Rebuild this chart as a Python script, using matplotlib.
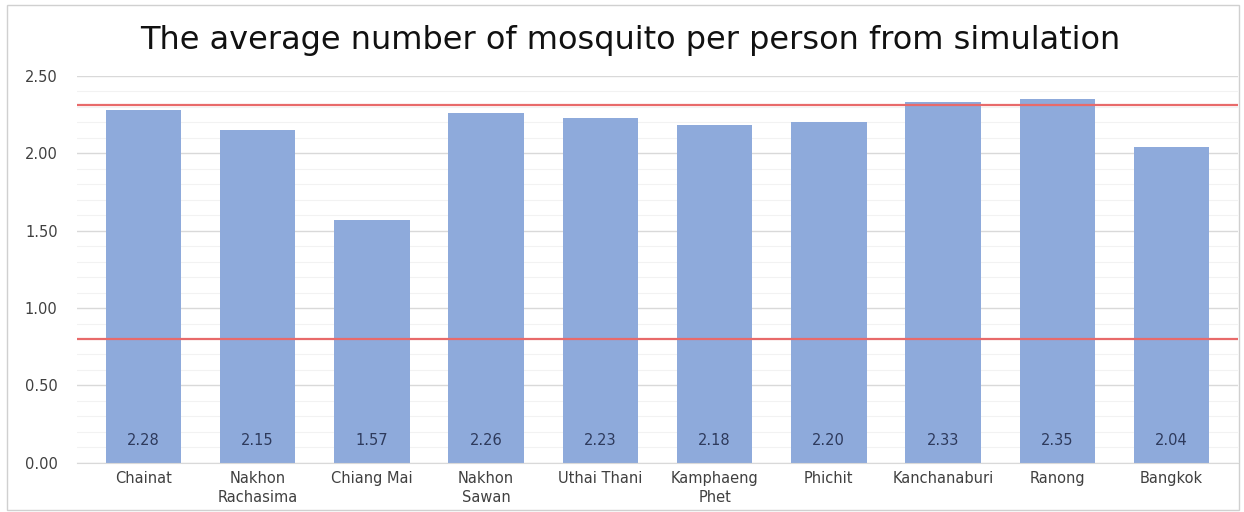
import numpy as np
import matplotlib
matplotlib.use("Agg")
import matplotlib.pyplot as plt
from matplotlib.patches import Rectangle

# data
provinces = ["Chainat", "Nakhon\nRachasima", "Chiang Mai", "Nakhon\nSawan", "Uthai Thani",
             "Kamphaeng\nPhet", "Phichit", "Kanchanaburi", "Ranong", "Bangkok"]
mosquito_per_person = [2.28, 2.15, 1.57, 2.26, 2.23, 2.18, 2.20, 2.33, 2.35, 2.04]
value_labels = ["2.28", "2.15", "1.57", "2.26", "2.23", "2.18", "2.20", "2.33", "2.35", "2.04"]
ref_lines = [2.31, 0.80]
yticks = [0.0, 0.5, 1.0, 1.5, 2.0, 2.5]

fig = plt.figure(figsize=(12.44, 5.12), dpi=100)
ax = fig.add_axes([0.062, 0.096, 0.933, 0.756])

x = np.arange(len(provinces))
bars = ax.bar(x, mosquito_per_person, width=0.66, color="#8eaadb", zorder=2)

for rect, lab in zip(bars, value_labels):
    ax.annotate(lab, (rect.get_x() + rect.get_width() / 2, 0), xytext=(0, 11),
                textcoords="offset points", ha="center", va="bottom",
                fontsize=10.5, color="#2e3a5c", zorder=4)

for y in ref_lines:
    ax.axhline(y, color="#e86a6a", linewidth=1.6, zorder=3)

ax.set_xlim(-0.58, len(provinces) - 0.42)
ax.set_ylim(0, 2.5)
ax.set_yticks(yticks)
ax.set_yticklabels(["%.2f" % v for v in yticks])
ax.set_yticks(np.arange(0, 2.51, 0.1), minor=True)
ax.grid(axis="y", which="major", color="#d9d9d9", linewidth=1, zorder=0)
ax.grid(axis="y", which="minor", color="#f2f2f2", linewidth=0.8, zorder=0)
ax.set_xticks(x)
ax.set_xticklabels(provinces, fontsize=10.5, color="#404040", linespacing=1.3)
ax.tick_params(axis="y", labelsize=10.5, labelcolor="#404040", length=0, pad=14)
ax.tick_params(axis="x", length=0, pad=6)
ax.tick_params(axis="y", which="minor", length=0)
for s in ax.spines.values():
    s.set_visible(False)
ax.spines["bottom"].set_visible(True)
ax.spines["bottom"].set_color("#d9d9d9")

fig.text(0.507, 0.92, "The average number of mosquito per person from simulation",
         ha="center", va="center", fontsize=23, color="#111111")

# outer frame like the chart box
fig.patches.append(Rectangle((0.006, 0.004), 0.99, 0.986, transform=fig.transFigure,
                             fill=False, edgecolor="#d0d0d0", linewidth=1))

fig.savefig("out.png", dpi=100)
